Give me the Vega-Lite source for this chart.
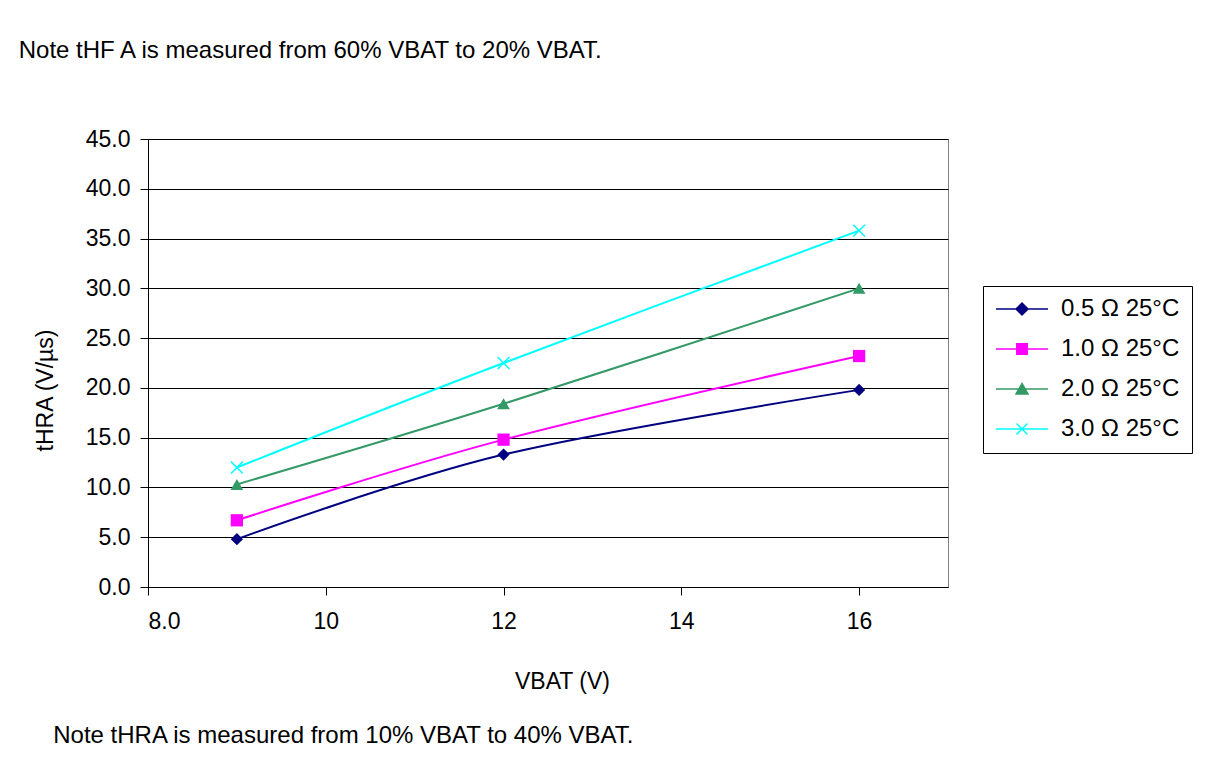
{
  "$schema": "https://vega.github.io/schema/vega-lite/v6.json",
  "background": "white",
  "padding": {"left": 18, "top": 38, "right": 0, "bottom": 0},
  "title": {
    "text": "Note tHF A is measured from 60% VBAT to 20% VBAT.",
    "anchor": "start", "frame": "bounds", "fontSize": 24, "fontWeight": "normal",
    "offset": 65, "dx": -15, "color": "black", "font": "Liberation Sans"
  },
  "config": {
    "font": "Liberation Sans",
    "view": {"stroke": "#808080", "strokeWidth": 1},
    "title": {"color": "black", "font": "Liberation Sans"},
    "axis": {
      "labelFont": "Liberation Sans", "titleFont": "Liberation Sans",
      "labelColor": "black", "titleColor": "black",
      "domainColor": "black", "tickColor": "black", "domainWidth": 1, "tickWidth": 1,
      "labelFontSize": 23, "titleFontWeight": "normal"
    }
  },
  "datasets": {
    "pts": [
      {"series": "0.5 Ω 25°C", "v": 9, "t": 4.8},
      {"series": "0.5 Ω 25°C", "v": 12, "t": 13.3},
      {"series": "0.5 Ω 25°C", "v": 16, "t": 19.8},
      {"series": "1.0 Ω 25°C", "v": 9, "t": 6.7},
      {"series": "1.0 Ω 25°C", "v": 12, "t": 14.8},
      {"series": "1.0 Ω 25°C", "v": 16, "t": 23.2},
      {"series": "2.0 Ω 25°C", "v": 9, "t": 10.3},
      {"series": "2.0 Ω 25°C", "v": 12, "t": 18.4},
      {"series": "2.0 Ω 25°C", "v": 16, "t": 30.0},
      {"series": "3.0 Ω 25°C", "v": 9, "t": 12.0},
      {"series": "3.0 Ω 25°C", "v": 12, "t": 22.5},
      {"series": "3.0 Ω 25°C", "v": 16, "t": 35.8}
    ]
  },
  "vconcat": [
    {
      "width": 800,
      "height": 448,
      "title": {
        "text": "Note  tHRA is measured from 10% VBAT to 40% VBAT.",
        "orient": "bottom", "anchor": "start", "frame": "bounds",
        "offset": 31, "dx": 19, "fontSize": 24, "fontWeight": "normal", "color": "black"
      },
      "data": {"name": "pts"},
      "encoding": {
        "x": {
          "field": "v", "type": "quantitative",
          "scale": {"domain": [8, 17], "nice": false, "zero": false},
          "axis": {
            "title": "VBAT (V)", "titleFontSize": 23, "titlePadding": 37, "titleX": 414,
            "values": [8, 10, 12, 14, 16], "grid": false, "tickSize": 8,
            "labelPadding": 15,
            "labelExpr": "datum.value == 8 ? '8.0' : datum.label"
          }
        },
        "y": {
          "field": "t", "type": "quantitative",
          "scale": {"domain": [0, 45], "nice": false},
          "axis": {
            "title": "tHRA (V/µs)", "titleFontSize": 23, "titlePadding": 28, "titleY": 251,
            "values": [0, 5, 10, 15, 20, 25, 30, 35, 40, 45], "format": ".1f",
            "grid": true, "gridColor": "black", "gridWidth": 1, "gridOpacity": 1,
            "tickSize": 8, "labelPadding": 10
          }
        }
      },
      "layer": [
        {
          "mark": {"type": "line", "interpolate": "cardinal", "strokeWidth": 2},
          "encoding": {
            "color": {
              "field": "series", "type": "nominal",
              "scale": {
                "domain": ["0.5 Ω 25°C", "1.0 Ω 25°C", "2.0 Ω 25°C", "3.0 Ω 25°C"],
                "range": ["#000080", "#FF00FF", "#339966", "#00FFFF"]
              }
            }
          }
        },
        {
          "mark": {"type": "point", "filled": true, "size": 0, "opacity": 1},
          "encoding": {
            "color": {
              "field": "series", "type": "nominal",
              "scale": {
                "domain": ["0.5 Ω 25°C", "1.0 Ω 25°C", "2.0 Ω 25°C", "3.0 Ω 25°C"],
                "range": ["#000080", "#FF00FF", "#339966", "#00FFFF"]
              },
              "legend": {
                "orient": "none", "legendX": 835, "legendY": 147,
                "title": null, "strokeColor": "black", "padding": 12,
                "labelFontSize": 24, "labelColor": "black", "labelFont": "Liberation Sans",
                "symbolSize": 2704, "clipHeight": 22, "rowPadding": 16, "labelOffset": 12,
                "encode": {
                  "symbols": {
                    "stroke": {"scale": "color", "field": "value"},
                    "fill": {"scale": "color", "field": "value"},
                    "strokeWidth": {"value": 2},
                    "size": {"value": 2704},
                    "opacity": {"value": 1}
                  }
                }
              }
            },
            "shape": {
              "field": "series", "type": "nominal",
              "scale": {
                "domain": ["0.5 Ω 25°C", "1.0 Ω 25°C", "2.0 Ω 25°C", "3.0 Ω 25°C"],
                "range": [
                  "M-1,0L1,0M-0.23,0L0,-0.23L0.23,0L0,0.23Z",
                  "M-1,0L1,0M-0.2,-0.2L0.2,-0.2L0.2,0.2L-0.2,0.2Z",
                  "M-1,0L1,0M-0.23,0.19L0.23,0.19L0,-0.21Z",
                  "M-1,0L1,0M-0.21,-0.21L0.21,0.21M-0.21,0.21L0.21,-0.21"
                ]
              }
            }
          }
        },
        {
          "transform": [{"filter": {"field": "series", "equal": "0.5 Ω 25°C"}}],
          "mark": {"type": "point", "filled": true, "size": 150, "opacity": 1, "shape": "diamond", "color": "#000080"}
        },
        {
          "transform": [{"filter": {"field": "series", "equal": "1.0 Ω 25°C"}}],
          "mark": {"type": "point", "filled": true, "size": 150, "opacity": 1, "shape": "square", "color": "#FF00FF"}
        },
        {
          "transform": [{"filter": {"field": "series", "equal": "2.0 Ω 25°C"}}],
          "mark": {"type": "point", "filled": true, "size": 160, "opacity": 1, "shape": "triangle-up", "color": "#339966"}
        },
        {
          "transform": [{"filter": {"field": "series", "equal": "3.0 Ω 25°C"}}],
          "mark": {"type": "point", "filled": false, "size": 140, "opacity": 1, "strokeWidth": 1.5, "shape": "M-1,-1L1,1M-1,1L1,-1", "color": "#00FFFF"}
        }
      ]
    }
  ]
}
